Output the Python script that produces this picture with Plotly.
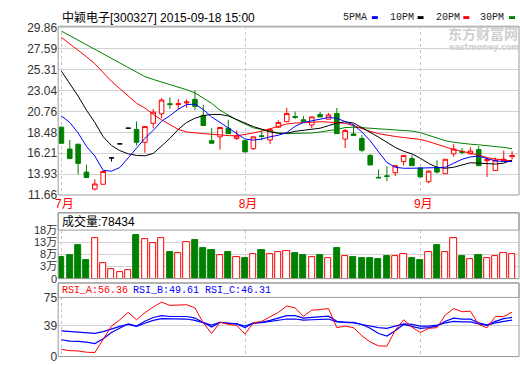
import plotly.graph_objects as go

# ---------------- data ----------------
months = ["7月", "8月", "9月"]
month_start_idx = [0, 22, 43]

price_ticks = [11.66, 13.93, 16.21, 18.48, 20.76, 23.04, 25.31, 27.59, 29.86]
vol_tick_pos = [0, 4.5, 9, 13.5, 18]
vol_tick_text = ["0", "3万", "8万", "13万", "18万"]
rsi_ticks = [0, 39, 75]

open_ = [19.04, 16.66, 17.19, 14.15, 12.31, 12.83, 15.70, 17.23, 18.93, 18.80,
         17.40, 19.46, 20.50, 21.60, 21.50, 21.68, 22.07, 20.33, 17.57, 17.99,
         18.93, 17.82, 17.57, 16.70, 18.10, 17.65, 19.04, 19.64, 20.20, 19.85,
         19.28, 20.43, 19.91, 20.54, 17.75, 18.31, 17.82, 15.97, 13.58, 13.75,
         14.09, 15.30, 15.62, 14.61, 13.11, 14.67, 13.98, 16.14, 16.40, 16.14,
         16.60, 15.40, 14.33, 15.38, 15.83]
high = [19.10, 17.65, 17.19, 14.96, 13.36, 14.30, 15.70, 17.23, 18.93, 19.67,
        19.11, 21.03, 22.20, 22.28, 22.12, 22.07, 23.05, 21.48, 18.93, 19.01,
        19.85, 18.69, 17.57, 17.99, 18.69, 18.80, 19.80, 21.13, 20.75, 20.26,
        20.16, 20.71, 20.60, 21.13, 18.85, 19.32, 18.20, 16.10, 14.44, 14.78,
        14.85, 15.97, 16.00, 14.61, 14.35, 15.45, 15.55, 17.19, 16.77, 16.87,
        16.97, 15.72, 15.72, 16.50, 16.42]
low = [17.29, 15.62, 13.91, 13.56, 12.16, 12.80, 15.30, 17.23, 18.93, 17.05,
       16.25, 18.93, 20.02, 21.03, 20.98, 21.13, 20.89, 19.17, 17.29, 16.60,
       18.34, 17.65, 16.35, 16.56, 17.65, 17.19, 18.95, 19.60, 19.95, 19.55,
       18.93, 20.16, 19.91, 18.34, 16.77, 18.13, 16.32, 14.93, 13.53, 13.18,
       13.73, 14.85, 14.85, 13.63, 12.94, 14.00, 13.98, 15.83, 16.07, 16.10,
       14.85, 13.63, 14.33, 15.38, 15.55]
close = [17.29, 15.62, 15.10, 13.56, 12.86, 14.22, 15.70, 17.23, 18.93, 17.40,
         19.11, 20.68, 22.00, 21.50, 21.60, 21.78, 21.31, 19.22, 17.29, 19.01,
         18.34, 18.07, 16.35, 17.99, 18.04, 18.80, 19.56, 20.54, 20.12, 19.64,
         20.16, 20.16, 20.37, 18.34, 18.69, 18.13, 16.53, 14.93, 13.53, 13.68,
         14.85, 15.97, 14.85, 13.63, 14.26, 14.15, 15.55, 16.66, 16.30, 16.45,
         14.85, 15.50, 15.45, 15.56, 15.97]

ma5 = [20.26, 19.56, 18.41, 16.95, 15.90, 14.33, 14.26, 14.65, 15.70, 16.77,
       17.82, 18.70, 19.70, 20.30, 21.00, 21.50, 21.55, 20.96, 20.16, 19.56,
       18.93, 18.34, 17.75, 17.64, 17.75, 17.99, 18.17, 18.45, 19.14, 19.56,
       19.74, 19.98, 20.09, 20.02, 19.63, 19.28, 18.52, 17.57, 16.35, 15.20,
       14.68, 14.57, 14.57, 14.57, 14.64, 14.64, 14.68, 15.10, 15.55, 15.80,
       15.90, 15.62, 15.38, 15.31, 15.31]
ma10 = [25.14, 23.85, 22.42, 20.89, 19.56, 18.00, 17.05, 16.49, 16.14, 15.97,
        15.93, 16.18, 16.95, 17.82, 18.80, 19.56, 20.02, 20.30, 20.43, 20.43,
        20.26, 19.91, 19.49, 19.11, 18.80, 18.52, 18.38, 18.38, 18.59, 18.73,
        18.83, 18.93, 19.21, 19.49, 19.63, 19.49, 19.00, 18.52, 17.96, 17.40,
        16.84, 16.42, 16.14, 15.66, 15.10, 14.68, 14.57, 14.68, 14.96, 15.17,
        15.13, 15.10, 15.03, 15.13, 15.45]
ma20 = [28.81, 28.11, 27.48, 26.71, 25.95, 24.97, 24.03, 23.23, 22.42, 21.65,
        21.13, 20.43, 19.84, 19.28, 18.80, 18.52, 18.41, 18.34, 18.27, 18.17,
        18.13, 18.10, 18.24, 18.41, 18.62, 18.86, 19.11, 19.39, 19.49, 19.56,
        19.60, 19.63, 19.60, 19.56, 19.46, 19.21, 18.86, 18.59, 18.34, 18.17,
        18.03, 17.92, 17.82, 17.71, 17.47, 17.19, 16.84, 16.60, 16.42, 16.25,
        16.00, 15.73, 15.55, 15.45, 15.38]
ma30 = [29.50, 29.01, 28.53, 28.04, 27.55, 27.06, 26.57, 26.09, 25.60, 25.11,
        24.55, 24.24, 23.96, 23.75, 23.40, 23.12, 22.77, 22.18, 21.64, 20.89,
        20.33, 19.84, 19.39, 18.97, 18.80, 18.59, 18.41, 18.34, 18.34, 18.34,
        18.41, 18.52, 18.62, 18.80, 19.00, 19.04, 18.99, 18.94, 18.86, 18.80,
        18.76, 18.69, 18.62, 18.45, 18.17, 17.82, 17.57, 17.40, 17.26, 17.19,
        17.12, 17.05, 16.95, 16.84, 16.70]

volume = [7.9, 8.7, 12.3, 6.9, 15.1, 5.8, 3.5, 2.5, 3.1, 16.3,
          14.7, 13.3, 15.1, 10.0, 9.4, 13.6, 14.3, 11.5, 10.7, 8.7,
          10.0, 7.9, 7.6, 9.1, 10.5, 9.0, 9.7, 10.1, 9.5, 8.7,
          7.9, 8.7, 7.6, 11.2, 8.5, 7.9, 7.7, 7.7, 7.2, 8.3,
          8.3, 9.0, 7.6, 6.8, 10.0, 12.6, 10.0, 15.1, 8.3, 7.1,
          8.7, 7.6, 8.5, 9.6, 9.0]
volume_last = "78434"

rsi_a = [9.1, 7.5, 7.1, 5.5, 5.1, 22.5, 38.6, 46.7, 56.0, 46.7,
         55.6, 62.9, 69.0, 64.9, 65.7, 65.7, 61.7, 42.7, 29.3, 43.5,
         40.7, 39.5, 28.5, 42.7, 44.7, 50.7, 56.0, 64.1, 61.7, 51.1,
         58.8, 59.6, 60.9, 36.6, 38.6, 36.6, 26.5, 18.4, 13.6, 13.2,
         33.4, 46.7, 37.4, 30.5, 35.8, 36.6, 52.8, 60.9, 56.8, 57.6,
         40.7, 36.6, 50.7, 50.7, 56.4]
rsi_b = [21.3, 19.6, 19.2, 18.4, 16.4, 22.5, 30.5, 35.8, 41.5, 38.6,
         44.7, 49.6, 52.0, 50.8, 50.8, 50.8, 48.8, 42.7, 37.4, 43.5,
         41.9, 41.5, 36.6, 42.7, 43.5, 45.9, 48.8, 52.0, 52.0, 48.8,
         49.6, 50.4, 51.2, 44.7, 43.5, 43.5, 40.7, 35.8, 29.3, 26.0,
         32.6, 40.7, 38.6, 35.8, 36.6, 38.6, 44.7, 48.8, 47.6, 47.6,
         42.7, 39.9, 44.7, 48.0, 49.6]
rsi_c = [32.6, 31.7, 31.3, 30.1, 29.3, 31.7, 35.4, 38.2, 40.7, 38.2,
         42.3, 45.9, 48.0, 47.6, 47.6, 47.6, 45.9, 42.7, 39.9, 43.5,
         42.3, 41.5, 38.6, 42.3, 43.1, 44.3, 45.9, 47.6, 47.6, 46.3,
         46.7, 47.2, 47.6, 43.9, 43.5, 42.7, 40.7, 38.6, 36.6, 35.8,
         38.6, 41.5, 40.7, 38.6, 38.6, 39.9, 42.7, 44.7, 43.9, 43.9,
         41.5, 39.9, 42.7, 44.7, 46.3]
rsi_labels = [("RSI_A", "56.36"), ("RSI_B", "49.61"), ("RSI_C", "46.31")]

# ---------------- styling ----------------
W, H = 520, 365
RED, GREEN, BLUE, BLACK = "#ff0000", "#008000", "#0000ff", "#000000"
BORDER = "#9a9a9a"
GRID = "#d2d2d2"
FONT = "Liberation Sans, Arial, Noto Sans CJK SC, sans-serif"
MONO = "Liberation Mono, DejaVu Sans Mono, monospace"


def px(x):
    return x / W


def py(y):
    return 1 - y / H


n = len(close)
idx = list(range(n))
up = [i for i in idx if close[i] > open_[i]]
dn = [i for i in idx if close[i] < open_[i]]
flat = [i for i in idx if close[i] == open_[i]]

fig = go.Figure()


def candle(ids, line_color, fill):
    style = dict(line=dict(color=line_color, width=1), fillcolor=fill)
    return go.Candlestick(
        x=ids, open=[open_[i] for i in ids], high=[high[i] for i in ids],
        low=[low[i] for i in ids], close=[close[i] for i in ids],
        increasing=style, decreasing=style, whiskerwidth=0,
        xaxis="x", yaxis="y", hoverinfo="skip")


fig.add_trace(candle(up, RED, "#ffffff"))
fig.add_trace(candle(dn, GREEN, GREEN))
fig.add_trace(candle(flat, BLACK, BLACK))

for series, col in [(ma30, GREEN), (ma20, RED), (ma10, BLACK), (ma5, BLUE)]:
    fig.add_trace(go.Scatter(x=idx, y=series, mode="lines",
                             line=dict(color=col, width=1),
                             xaxis="x", yaxis="y", hoverinfo="skip"))

is_up = [close[i] >= open_[i] for i in idx]
fig.add_trace(go.Bar(
    x=idx, y=volume, width=0.74,
    marker=dict(color=["#ffffff" if u else GREEN for u in is_up],
                line=dict(color=[RED if u else GREEN for u in is_up], width=1)),
    xaxis="x2", yaxis="y2", hoverinfo="skip"))

for series, col, w in [(rsi_c, BLUE, 1.2), (rsi_b, BLUE, 1.2), (rsi_a, RED, 1)]:
    fig.add_trace(go.Scatter(x=idx, y=series, mode="lines",
                             line=dict(color=col, width=w),
                             xaxis="x3", yaxis="y3", hoverinfo="skip"))

xdom = [px(55.5), px(519)]
xrange_ = [-0.39, 54.83]
xcommon = dict(domain=xdom, range=xrange_, tickvals=month_start_idx,
               showgrid=True, gridcolor="#c4c4c4", griddash="3px,3px",
               gridwidth=1, zeroline=False, showline=False, ticks="",
               fixedrange=True)
ycommon = dict(showgrid=True, gridcolor=GRID, gridwidth=1, zeroline=False,
               showline=False, ticks="", fixedrange=True)
tick_font = dict(family=FONT, size=12, color="#333333")

fig.update_layout(
    width=W, height=H, margin=dict(l=0, r=0, t=0, b=0),
    paper_bgcolor="white", plot_bgcolor="white", showlegend=False,
    boxgap=0.22, boxmode="overlay", bargap=0,
    xaxis=dict(**xcommon, anchor="y", ticktext=months, ticklabelshift=3,
               tickfont=dict(family=FONT, size=12, color=RED),
               rangeslider=dict(visible=False)),
    xaxis2=dict(**xcommon, anchor="y2", showticklabels=False),
    xaxis3=dict(**xcommon, anchor="y3", showticklabels=False),
    yaxis=dict(**ycommon, domain=[py(195.5), py(20)], range=[11.66, 30.03],
               tickfont=tick_font,
               tickvals=price_ticks, ticktext=[f"{v:.2f}" for v in price_ticks]),
    yaxis2=dict(**ycommon, domain=[py(282.5), py(232)], range=[0, 18],
                tickfont=dict(family=FONT, size=11, color="#333333"),
                tickvals=vol_tick_pos, ticktext=vol_tick_text),
    yaxis3=dict(**ycommon, domain=[py(363.5), py(302)], range=[0, 75],
                tickfont=tick_font,
                tickvals=rsi_ticks, ticktext=[str(v) for v in rsi_ticks]),
)

shapes = []


def rect(x0, y0, x1, y1, color=BORDER, fill=None):
    shapes.append(dict(type="rect", xref="paper", yref="paper",
                       x0=px(x0), x1=px(x1), y0=py(y1), y1=py(y0),
                       line=dict(color=color, width=1 if fill is None else 0),
                       fillcolor=fill if fill else "rgba(0,0,0,0)", layer="above"))


rect(55.5, 20, 519, 195.5)
rect(55.5, 214, 519, 282.5)
rect(55.5, 214, 519, 232)
rect(55.5, 287, 519, 363.5)
rect(55.5, 287, 519, 302)

annotations = []


def text(x, y, s, color="#000000", size=12, family=FONT, anchor="left", bold=False):
    if bold:
        s = f"<b>{s}</b>"
    annotations.append(dict(x=px(x), y=py(y), xref="paper", yref="paper", text=s,
                            showarrow=False, xanchor=anchor, yanchor="middle",
                            font=dict(family=family, size=size, color=color)))


text(57, 11, "中颖电子[300327] 2015-09-18 15:00")

legend = [("5PMA", BLUE, 340, 371), ("10PM", BLACK, 387, 417),
          ("20PM", RED, 433, 463), ("30PM", GREEN, 478, 509)]
for label, col, tx, sx in legend:
    text(tx, 11, label, color="#222222", size=10, family=MONO)
    rect(sx, 9.5, sx + 6, 12.5, fill=col)

text(57, 223, "成交量:" + volume_last)
rsi_x = [57, 129, 201]
rsi_cols = [RED, BLUE, BLUE]
for (name, val), x, col in zip(rsi_labels, rsi_x, rsi_cols):
    text(x, 294.5, f"{name}:{val}", color=col, size=10, family=MONO)

# watermark
text(483, 27, "东方财富网", color="#d0d0d0", size=14,
     family="Noto Sans CJK SC", anchor="center", bold=True)
text(484, 42, "eastmoney.com", color="#d0d0d0", size=8,
     family="DejaVu Sans", anchor="center", bold=True)

fig.update_layout(shapes=shapes, annotations=annotations)
fig.write_html(
    "out.html",
    config={"displayModeBar": False},
    post_script="document.body.style.margin='0';document.body.style.overflow='hidden';",
)
